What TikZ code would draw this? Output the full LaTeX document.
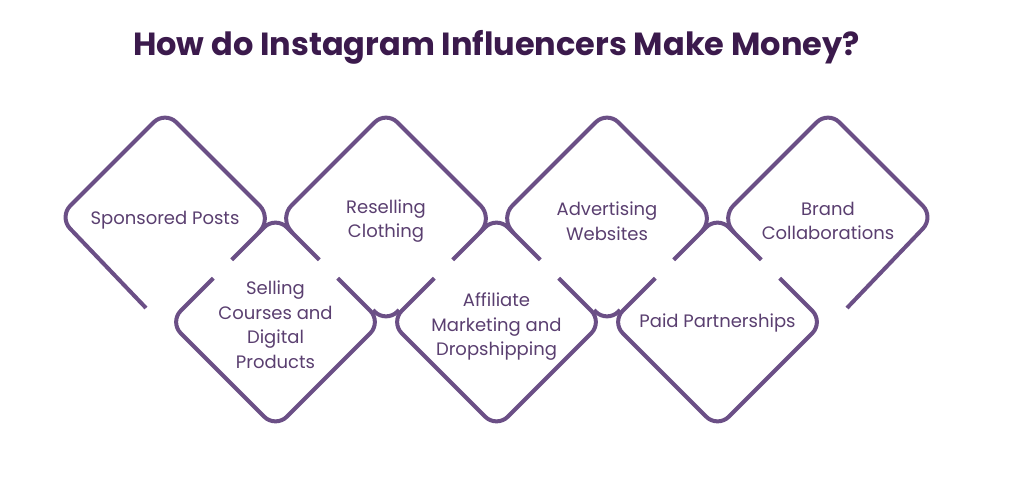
\documentclass[tikz,border=0pt]{standalone}
\usepackage{fontspec}
\setmainfont{Poppins}
\usepackage{tikz}
\definecolor{LinePurple}{HTML}{6B4F86}
\definecolor{TextPurple}{HTML}{5A3F70}
\definecolor{TitlePurple}{HTML}{3B1A4C}
\tikzset{rim/.style={draw=LinePurple, line width=4pt, rounded corners=16pt},
  caption/.style={text=TextPurple, align=center, inner sep=0pt, font=\fontsize{18}{24.5}\selectfont}}

\begin{document}
\begin{tikzpicture}[x=1pt,y=-1pt]
                \fill[white] (0,0) rectangle (1024,500);
                \useasboundingbox (0,0) rectangle (1024,500);
                % centres of the diamonds
                \coordinate (t1) at (165,217);
                \coordinate (t2) at (386,217);
                \coordinate (t3) at (607,217);
                \coordinate (t4) at (828,217);
                \coordinate (b1) at (275.5,322);
                \coordinate (b2) at (496.5,322);
                \coordinate (b3) at (717.5,322);
                \node[anchor=base, text=TitlePurple, font=\fontsize{32}{40}\selectfont\bfseries] (title) at (496.5,56) {How do Instagram Influencers Make Money?};
                % upper row
                \draw[rim, shift={(t1)}] (-19,91) -- (-106,0) -- (0,-106) -- (106,0) -- (93.5,16);
                \draw[rim, shift={(t2)}] (-93.5,16) -- (-106,0) -- (0,-106) -- (106,0) -- (93.5,16);
                \draw[rim, shift={(t3)}] (-93.5,16) -- (-106,0) -- (0,-106) -- (106,0) -- (93.5,16);
                \draw[rim, shift={(t4)}] (-93.5,16) -- (-106,0) -- (0,-106) -- (106,0) -- (19,91);
                \draw[rim, shift={(t2)}] (-13,93) -- (0,106) -- (13,93);
                \draw[rim, shift={(t3)}] (-13,93) -- (0,106) -- (13,93);
                % lower row
                \draw[rim, shift={(b1)}] (-43.8,-62.2) -- (0,-106) -- (43.8,-62.2);
                \draw[rim, shift={(b1)}] (-62.2,-43.8) -- (-106,0) -- (0,106) -- (106,0) -- (62.2,-43.8);
                \draw[rim, shift={(b2)}] (-43.8,-62.2) -- (0,-106) -- (43.8,-62.2);
                \draw[rim, shift={(b2)}] (-62.2,-43.8) -- (-106,0) -- (0,106) -- (106,0) -- (62.2,-43.8);
                \draw[rim, shift={(b3)}] (-43.8,-62.2) -- (0,-106) -- (43.8,-62.2);
                \draw[rim, shift={(b3)}] (-62.2,-43.8) -- (-106,0) -- (0,106) -- (106,0) -- (62.2,-43.8);
                % labels
                \node[caption] (sponsored) at ([yshift=-3]t1) {Sponsored Posts};
                \node[caption] (reselling) at ([yshift=-4]t2) {Reselling\\Clothing};
                \node[caption] (advertising) at ([yshift=-4]t3) {Advertising\\Websites};
                \node[caption] (brand) at ([yshift=-4]t4) {Brand\\Collaborations};
                \node[caption] (selling) at ([yshift=-2.5]b1) {Selling\\Courses and\\Digital\\Products};
                \node[caption] (affiliate) at ([yshift=-5]b2) {Affiliate\\Marketing and\\Dropshipping};
                \node[caption] (paid) at ([yshift=-1]b3) {Paid Partnerships};
\end{tikzpicture}
\end{document}
